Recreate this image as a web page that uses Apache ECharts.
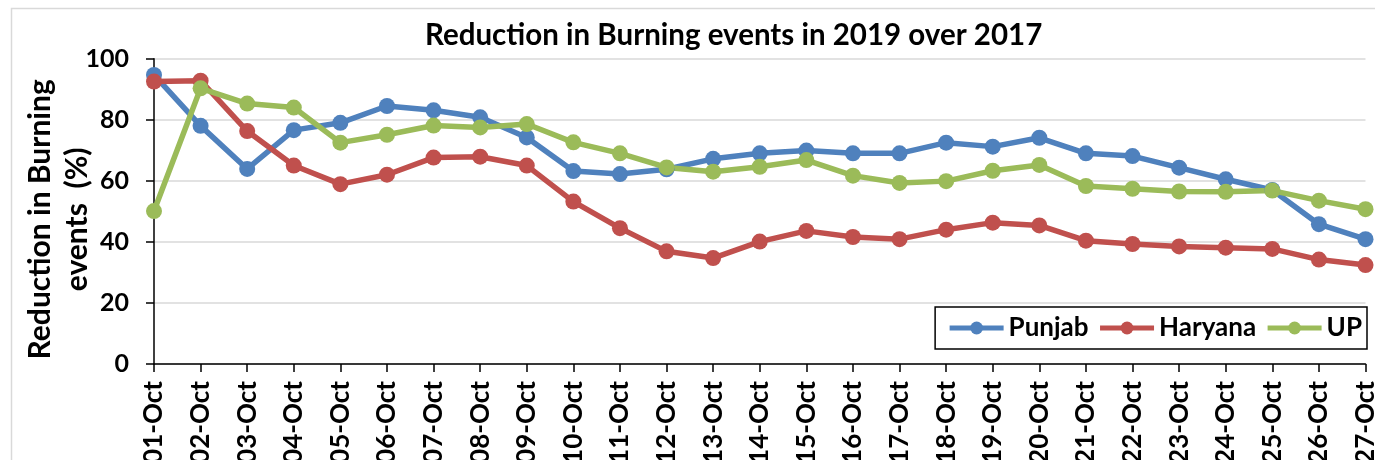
<!DOCTYPE html>
<html>
<head>
<meta charset="utf-8">
<script src="https://cdn.jsdelivr.net/npm/echarts@6/dist/echarts.min.js"></script>
<style>
html,body{margin:0;padding:0;background:#fff;}
#chart{width:1375px;height:460px;}
</style>
</head>
<body>
<div id="chart"></div>
<script>
const days = ['01-Oct','02-Oct','03-Oct','04-Oct','05-Oct','06-Oct','07-Oct','08-Oct','09-Oct','10-Oct','11-Oct','12-Oct','13-Oct','14-Oct','15-Oct','16-Oct','17-Oct','18-Oct','19-Oct','20-Oct','21-Oct','22-Oct','23-Oct','24-Oct','25-Oct','26-Oct','27-Oct'];
const punjab = [94.7, 78.0, 63.9, 76.6, 79.0, 84.5, 83.1, 80.8, 74.2, 63.2, 62.2, 63.8, 67.2, 69.0, 69.9, 69.0, 69.0, 72.5, 71.2, 74.1, 69.0, 68.1, 64.3, 60.5, 57.0, 45.8, 40.9];
const haryana = [92.5, 92.8, 76.3, 65.0, 58.9, 62.0, 67.6, 67.9, 65.0, 53.2, 44.5, 36.9, 34.7, 40.1, 43.6, 41.6, 40.9, 44.0, 46.3, 45.4, 40.4, 39.3, 38.5, 38.1, 37.7, 34.2, 32.4];
const up = [50.1, 90.3, 85.3, 84.0, 72.5, 75.1, 78.1, 77.5, 78.6, 72.6, 69.0, 64.4, 63.0, 64.6, 66.8, 61.7, 59.3, 59.9, 63.3, 65.2, 58.3, 57.4, 56.5, 56.4, 56.8, 53.5, 50.7];
const seriesNames = ['Punjab', 'Haryana', 'UP'];
const colors = ['#4F81BD', '#C0504D', '#9BBB59'];
const titleText = 'Reduction in Burning events in 2019 over 2017';
const yName = 'Reduction in Burning\nevents  (%)';

const FONT = 'Lato';
const chart = echarts.init(document.getElementById('chart'), null, {renderer: 'canvas'});
function mk(name, data, color) {
  return {
    name: name, type: 'line', data: data,
    symbol: 'circle', symbolSize: 16,
    lineStyle: {color: color, width: 5.5},
    itemStyle: {color: color},
    emphasis: {disabled: true},
    animation: false
  };
}
chart.setOption({
  animation: false,
  backgroundColor: '#fff',
  graphic: [{
    type: 'rect', left: 9, top: 6, silent: true,
    shape: {width: 1400, height: 500},
    style: {fill: 'none', stroke: '#d9d9d9', lineWidth: 1.5}, z: -1
  }],
  title: {
    text: titleText, left: 420, top: 15,
    textStyle: {fontFamily: FONT, fontWeight: 'bold', fontSize: 29.5, color: '#000'}
  },
  legend: {
    data: seriesNames, right: 8, top: 307,
    borderColor: '#000', borderWidth: 1.5, padding: [8, 5, 8, 12],
    itemWidth: 54, itemHeight: 16, itemGap: 9,
    lineStyle: {width: 5},
    textStyle: {fontFamily: FONT, fontWeight: 'bold', fontSize: 26, color: '#000'}
  },
  grid: {left: 154, right: 9.5, top: 58.7, bottom: 96, containLabel: false, outerBoundsMode: 'none'},
  xAxis: {
    type: 'category', data: days, boundaryGap: false,
    axisLine: {lineStyle: {color: '#000', width: 1.5}},
    axisTick: {show: true, alignWithLabel: true, length: 8, lineStyle: {color: '#000', width: 1.5}},
    axisLabel: {rotate: 90, margin: 17, interval: 0, fontFamily: FONT, fontWeight: 'bold', fontSize: 26, color: '#000'},
    splitLine: {show: false}
  },
  yAxis: {
    type: 'value', min: 0, max: 100, interval: 20,
    name: yName, nameLocation: 'middle', nameRotate: 90, nameGap: 58, nameMoveOverlap: false,
    nameTextStyle: {fontFamily: FONT, fontWeight: 'bold', fontSize: 30, color: '#000', lineHeight: 37, padding: [0, 16, 0, 0]},
    axisLine: {show: true, lineStyle: {color: '#000', width: 1.5}},
    axisTick: {show: true, length: 8, lineStyle: {color: '#000', width: 1.5}},
    axisLabel: {margin: 25, fontFamily: FONT, fontWeight: 'bold', fontSize: 25, color: '#000'},
    splitLine: {show: true, lineStyle: {color: '#d9d9d9', width: 1.5}}
  },
  series: [mk(seriesNames[0], punjab, colors[0]), mk(seriesNames[1], haryana, colors[1]), mk(seriesNames[2], up, colors[2])]
});
</script>
</body>
</html>
